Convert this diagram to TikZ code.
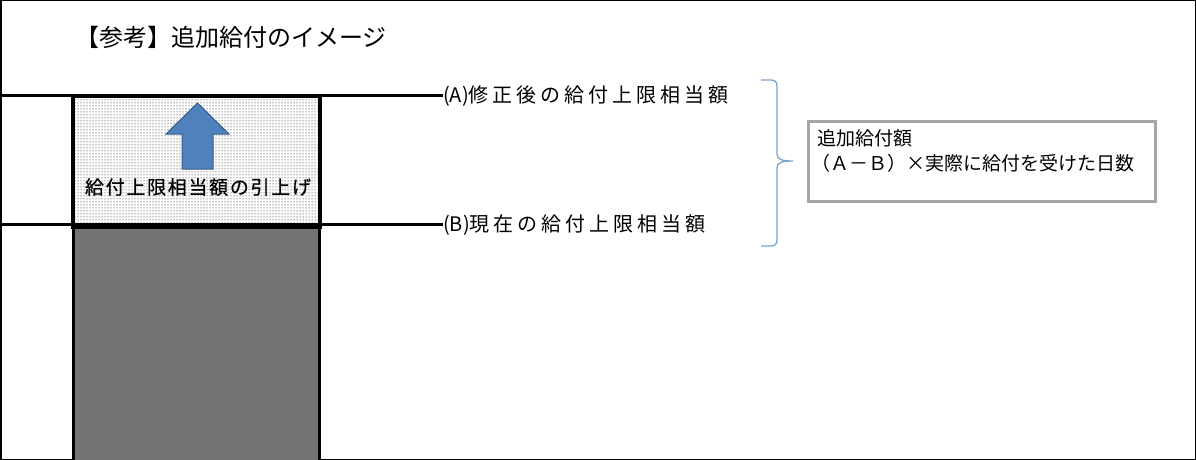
\documentclass[tikz,border=0pt]{standalone}
\usepackage{fontspec}
\setmainfont{Noto Sans CJK JP}
\newfontfamily\jpwide[LetterSpace=20]{Noto Sans CJK JP}
\newfontfamily\jpmid[LetterSpace=9,FakeBold=0.6]{Noto Sans CJK JP}
\usetikzlibrary{patterns}
\definecolor{arrowfill}{HTML}{4F81BD}
\definecolor{arrowdraw}{HTML}{385D8A}
\definecolor{bracecol}{HTML}{7BA3CF}
\definecolor{boxgray}{HTML}{A6A6A6}
\begin{document}
\begin{tikzpicture}[x=1pt,y=-1pt,
  level/.style={line width=3pt},
  barbox/.style={draw=black,line width=2.5pt,anchor=north west,inner sep=0pt},
  lbl/.style={anchor=west,inner sep=0pt,font=\fontsize{20}{24}\selectfont},
  ]
\useasboundingbox (0,0) rectangle (1196,460);
\draw[line width=1.5pt] (0.75,0.75) rectangle (1195.25,459.25);
% title
\node[anchor=west,inner sep=0pt,font=\fontsize{24}{29}\selectfont] (title) at (75,37) {【参考】追加給付のイメージ};
% bars
\node[barbox,fill=black!55,minimum width=246pt,minimum height=238pt] (low) at (72,224) {};
\node[barbox,fill=white,minimum width=246pt,minimum height=130pt] (up) at (72,95) {};
\fill[pattern=dots,pattern color=black] ([xshift=1.3pt,yshift=-1.3pt]up.north west) rectangle ([xshift=-1.3pt,yshift=1.3pt]up.south east);
\draw[line width=2.5pt] (up.north west) rectangle (up.south east);
% arrow
\draw[fill=arrowfill,draw=arrowdraw,line width=1pt]
  (182,169) -- (182,134) -- (166,134) -- (197.5,103) -- (229,134) -- (213,134) -- (213,169) -- cycle;
\node[inner sep=1pt,font=\jpmid\fontsize{19}{22}\selectfont] (raise) at (198,187) {給付上限相当額の引上げ};
% labels and level lines
\node[lbl] (labA) at (443,96) {(A){\jpwide 修正後の給付上限相当額}};
\node[lbl] (labB) at (443,225) {(B){\jpwide 現在の給付上限相当額}};
\coordinate (lA) at (0,95);
\coordinate (lB) at (0,224);
\draw[level] (lA) -- (labA.west |- lA);
\draw[level] (lB) -- (labB.west |- lB);
% brace
\coordinate (bt) at (761,80);
\coordinate (bb) at (761,246);
\coordinate (bm) at (793,161);
\draw[bracecol,line width=1.3pt]
  (bt) -- (771,80) .. controls (775,80) and (777,82) .. (777,86)
  -- (777,154) .. controls (777,159) and (781,161) .. (bm)
  .. controls (781,161) and (777,163) .. (777,168)
  -- (777,240) .. controls (777,244) and (775,246) .. (771,246) -- (bb);
% result box
\node[draw=boxgray,line width=3pt,fill=white,minimum width=347pt,minimum height=80pt,anchor=north west,inner sep=0pt] (res) at (807,120) {};
\node[anchor=north west,inner sep=0pt,align=left,font=\fontsize{19}{25}\selectfont] (restext) at (817,129)
  {追加給付額\\\kern-6pt（Ａ－Ｂ）×実際に給付を受けた日数};
\end{tikzpicture}
\end{document}
